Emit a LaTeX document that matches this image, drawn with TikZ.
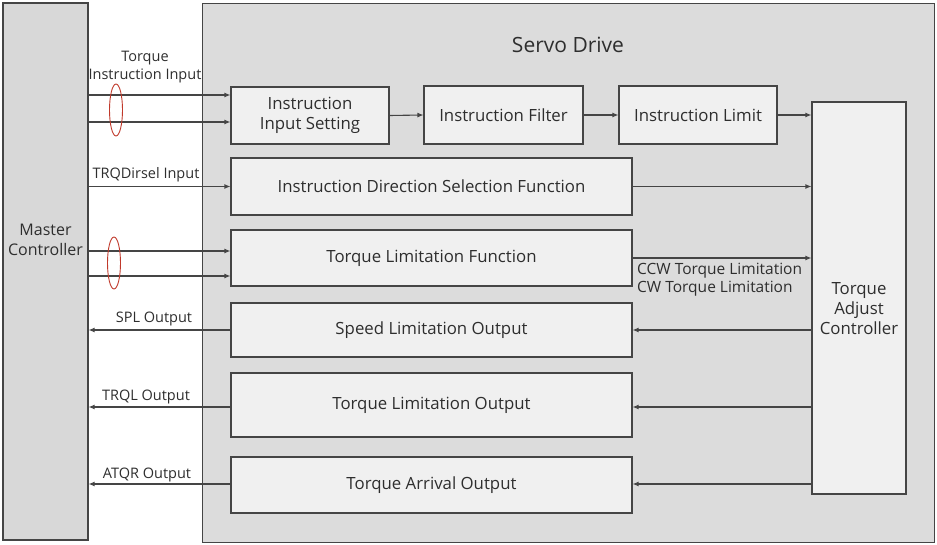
\documentclass[tikz,border=0pt]{standalone}
\usepackage{fontspec}
\setmainfont{Open Sans}
\usepackage{xcolor}
\usetikzlibrary{arrows.meta, positioning}
\definecolor{drivegray}{HTML}{DCDCDC}
\definecolor{mastergray}{HTML}{D8D8D8}
\definecolor{boxfill}{HTML}{F0F0F0}
\definecolor{linegray}{HTML}{454545}
\definecolor{inkgray}{HTML}{2E2E2E}
\definecolor{ringred}{HTML}{C0392B}

\begin{document}
\begin{tikzpicture}[x=1pt, y=-1pt, every node/.style={font=\fontsize{16.8}{20}\selectfont, text=inkgray},
  block/.style={draw=linegray, fill=boxfill, line width=1.1pt, align=center, inner sep=0pt},
  sig/.style={draw=linegray, line width=1.1pt, -{Latex[length=6pt,width=5pt]}},
  lbl/.style={font=\fontsize{14.5}{18}\selectfont, align=center, inner sep=0pt}]
\useasboundingbox (0,0) rectangle (937,545);
% Master controller and servo drive
\node[block, fill=mastergray, minimum width=85pt, minimum height=537pt] (mc) at (45.5,271.5) {};
\node[align=center, inner sep=0pt, font=\fontsize{16}{20}\selectfont] (mctxt) at (45.5,240) {Master\\Controller};
\node[block, fill=drivegray, minimum width=732pt, minimum height=539pt, anchor=north west] (drive) at (202,3) {};
\node[font=\fontsize{21}{25}\selectfont] (title) at (568,45) {Servo Drive};

% Instruction chain
\node[block, minimum width=158pt, minimum height=57pt] (inset) at (310,115.5) {Instruction\\Input Setting};
\node[block, minimum width=159pt, minimum height=58pt] (filt) at (503.5,115) {Instruction Filter};
\node[block, minimum width=158pt, minimum height=58pt] (limit) at (698,115) {Instruction Limit};
\node[block, minimum width=94pt, minimum height=392pt] (tac) at (859,298) {};
\node[align=center, inner sep=0pt] (tactxt) at (859,309) {Torque\\Adjust\\Controller};

% Wide blocks
\node[block, minimum width=401pt, minimum height=57pt] (dirsel) at (431.5,186.5) {Instruction Direction Selection Function};
\node[block, minimum width=401pt, minimum height=56pt] (tqlim) at (431.5,258) {Torque Limitation Function};
\node[block, minimum width=401pt, minimum height=54pt] (splout) at (431.5,330) {Speed Limitation Output};
\node[block, minimum width=401pt, minimum height=64pt] (trqlout) at (431.5,405) {Torque Limitation Output};
\node[block, minimum width=401pt, minimum height=56pt] (atqrout) at (431.5,485) {Torque Arrival Output};

% Inputs
\draw[sig] (mc.east |- 0,95) -- (inset.west |- 0,95);
\draw[sig] (mc.east |- 0,122) -- (inset.west |- 0,122);
\draw[sig] (mc.east |- dirsel.west) -- (dirsel.west);
\draw[sig] (mc.east |- 0,251) -- (tqlim.west |- 0,251);
\draw[sig] (mc.east |- 0,276) -- (tqlim.west |- 0,276);
\draw[ringred, line width=0.9pt] (116,110) ellipse (6.5pt and 26pt);
\draw[ringred, line width=0.9pt] (114,263) ellipse (6.5pt and 26pt);
\node[lbl] (tqin) at (145,67) {Torque\\Instruction Input};
\node[lbl] (dirin) at (146,175) {TRQDirsel Input};

% Internal flow
\draw[sig] (inset.east) -- (filt.west);
\draw[sig] (filt.east) -- (limit.west);
\draw[sig] (limit.east) -- (tac.west |- limit.east);
\draw[sig] (dirsel.east) -- (tac.west |- dirsel.east);
\draw[sig] (tqlim.east) -- (tac.west |- tqlim.east);
\node[lbl, font=\fontsize{15.5}{18}\selectfont, anchor=north west, align=left] (cwlbl) at (637,263) {CCW Torque Limitation\\CW Torque Limitation};
\draw[sig] (tac.west |- splout.east) -- (splout.east);
\draw[sig] (tac.west |- 0,407) -- (trqlout.east |- 0,407);
\draw[sig] (tac.west |- 0,484) -- (atqrout.east |- 0,484);

% Outputs
\draw[sig] (splout.west) -- (mc.east |- splout.west);
\draw[sig] (trqlout.west |- 0,407) -- (mc.east |- 0,407);
\draw[sig] (atqrout.west |- 0,484) -- (mc.east |- 0,484);
\node[lbl] (splo) at (154,319) {SPL Output};
\node[lbl] (trqlo) at (146,397) {TRQL Output};
\node[lbl] (atqro) at (147,475) {ATQR Output};
\end{tikzpicture}
\end{document}
